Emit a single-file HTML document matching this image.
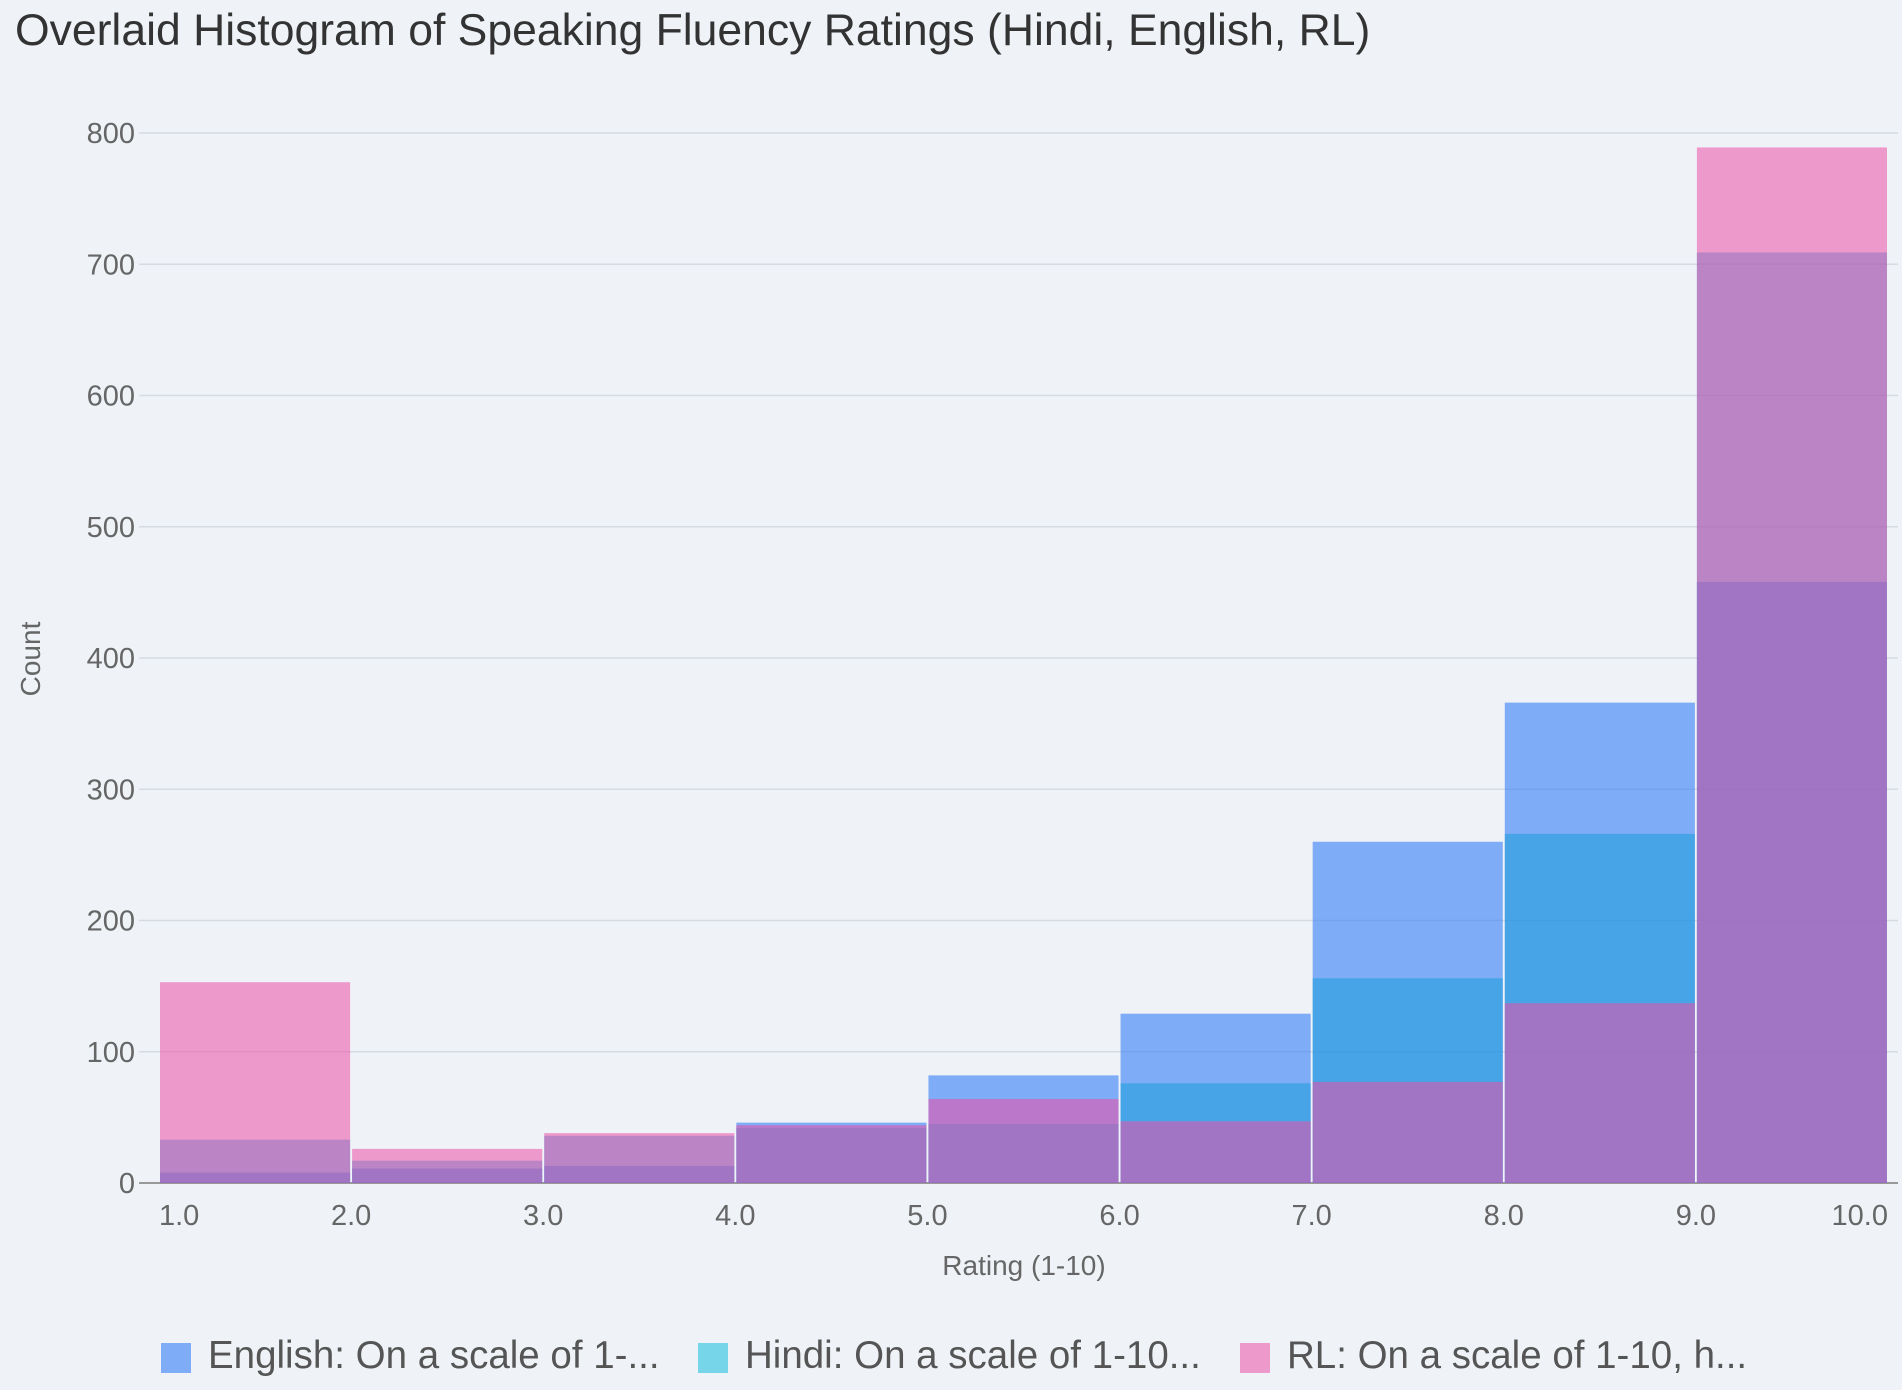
<!DOCTYPE html>
<html><head><meta charset="utf-8"><style>
body{margin:0;background:#eff3f8;font-family:"Liberation Sans",sans-serif;}
svg{display:block}
</style></head><body>
<svg id="chart" width="1902" height="1390">
<rect width="1902" height="1390" fill="#eff3f8"/>
<text x="15" y="45" font-size="44.5" fill="#333">Overlaid Histogram of Speaking Fluency Ratings (Hindi, English, RL)</text>
<g id="grid"></g><g id="bars"></g><g id="axes"></g>
<text x="1024" y="1275" font-size="28" fill="#666" text-anchor="middle">Rating (1-10)</text>
<text transform="translate(40,659) rotate(-90)" font-size="28" fill="#666" text-anchor="middle">Count</text>
<g>
<g><rect x="161" y="1343" width="30" height="30" fill="#4285f4" opacity="0.65"/><text x="208" y="1368" font-size="38.5" fill="#555">English: On a scale of 1-...</text></g>
<g><rect x="698" y="1343" width="30" height="30" fill="#24c1e0" opacity="0.6"/><text x="745" y="1368" font-size="38.5" fill="#555">Hindi: On a scale of 1-10...</text></g>
<g><rect x="1240" y="1343" width="30" height="30" fill="#ec4fa8" opacity="0.55"/><text x="1287" y="1368" font-size="38.5" fill="#555">RL: On a scale of 1-10, h...</text></g>
</g>
</svg>
<script>
const binStarts=[1,2,3,4,5,6,7,8,9];
const english=[8,11,13,46,82,129,260,366,458];
const hindi=[33,17,36,42,45,76,156,266,709];
const rl=[153,26,38,44,64,47,77,137,789];
const yTicks=[0,100,200,300,400,500,600,700,800];
const xTicks=["1.0","2.0","3.0","4.0","5.0","6.0","7.0","8.0","9.0","10.0"];
const NS="http://www.w3.org/2000/svg";
const X0=159,X1=1888,Y0=1183,Y1=133;
const xs=v=>X0+(v-1)/9*(X1-X0);
const ys=v=>Y0-v/800*(Y0-Y1);
function mk(t,a,p){const e=document.createElementNS(NS,t);for(const k in a)e.setAttribute(k,a[k]);p.appendChild(e);return e;}
const grid=document.getElementById('grid'),bars=document.getElementById('bars'),axes=document.getElementById('axes');
yTicks.forEach(t=>{
 const l=mk('line',{x1:X0-20,x2:X1+10,y1:ys(t),y2:ys(t),stroke:t===0?'#999':'#d6dbe2','stroke-width':t===0?2:1.5},grid);
 
 
 const tx=mk('text',{x:X0-24,y:ys(t)+10,'font-size':29,fill:'#666','text-anchor':'end'},axes);
 tx.textContent=t;
 
 
});
xTicks.forEach((t,i)=>{
 const anchor=i===0?'start':(i===xTicks.length-1?'end':'middle');
 const x=i===0?xs(1):(i===xTicks.length-1?xs(10):xs(i+1));
 const tx=mk('text',{x:x,y:1225,'font-size':29,fill:'#666','text-anchor':anchor},axes);
 tx.textContent=t;
 
 
});
const series=[[english,'#4285f4',0.65,'english'],[hindi,'#0f9bd7',0.5,'hindi'],[rl,'#ec4fa8',0.55,'rl']];
series.forEach(([vals,col,op,nm])=>{
 binStarts.forEach((b,i)=>{
  const x=xs(b)+1,w=xs(b+1)-xs(b)-2;
  const r=mk('rect',{x:x,y:ys(vals[i]),width:w,height:Y0-ys(vals[i]),fill:col,opacity:op},bars);
  
  
 });
});
</script>
</body></html>
